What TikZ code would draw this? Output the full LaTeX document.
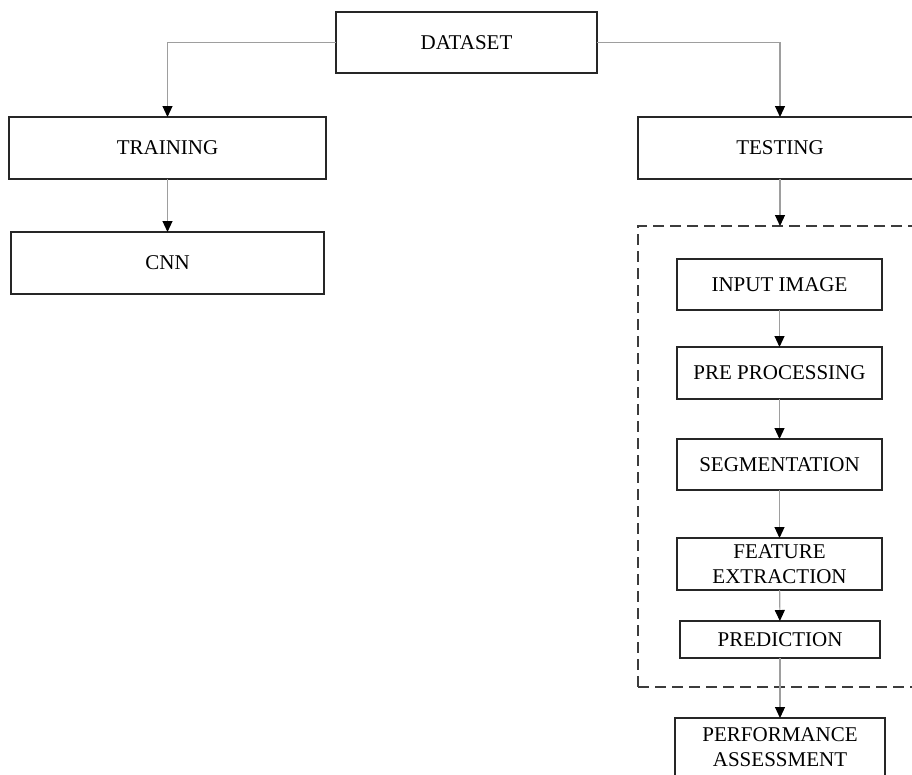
\documentclass[tikz,border=0pt]{standalone}
\usepackage{fontspec}
\setmainfont{Liberation Serif}
\usepackage{tikz}
\usetikzlibrary{positioning,calc,arrows.meta}
\definecolor{linegray}{rgb}{0.62, 0.62, 0.62}
\definecolor{boxblack}{rgb}{0.15, 0.15, 0.15}

\begin{document}
\begin{tikzpicture}[x=1pt,y=-1pt,>={Triangle[color=black,length=11pt,width=10pt]},
                line width=1.4pt,
                main node/.style={rectangle,draw=boxblack,inner sep=0pt,outer sep=0pt,align=center,
                                  font=\fontsize{21}{25}\selectfont},
                link/.style={->,draw=linegray,line width=1.1pt}]
\clip (0,0) rectangle (912,774);
\useasboundingbox (0,0) rectangle (912,774);
%Nodes
    \node[main node, minimum width=261pt, minimum height=61pt] (DS) at (466.5,42.5) {DATASET};
    \node[main node, minimum width=317pt, minimum height=62pt] (TR) at (167.5,148) {TRAINING};
    \node[main node, minimum width=313pt, minimum height=62pt] (CNN) at (167.5,263) {CNN};
    \node[main node, minimum width=284pt, minimum height=62pt] (TE) at (780,148) {TESTING};
    \node[main node, dash pattern=on 11pt off 6pt, draw=boxblack!90, line width=1.8pt,
          minimum width=284pt, minimum height=461pt] (TB) at (780,456.5) {};
    \node[main node, minimum width=205pt, minimum height=51pt] (IN) at (779.5,284.5) {INPUT IMAGE};
    \node[main node, minimum width=205pt, minimum height=52pt] (PP) at (779.5,373) {PRE PROCESSING};
    \node[main node, minimum width=205pt, minimum height=51pt] (SG) at (779.5,464.5) {SEGMENTATION};
    \node[main node, minimum width=205pt, minimum height=52pt] (FE) at (779.5,564) {FEATURE\\EXTRACTION};
    \node[main node, minimum width=200pt, minimum height=37pt] (PR) at (780,639.5) {PREDICTION};
    \node[main node, minimum width=210pt, minimum height=58pt] (PA) at (780,747) {PERFORMANCE\\ASSESSMENT};

    \draw[link] (DS.west) -| (TR.north);
    \draw[link] (DS.east) -| (TE.north);
    \path[link] (TR) edge (CNN);
    \path[link] (TE) edge (TB);
    \path[link] (IN) edge (PP);
    \path[link] (PP) edge (SG);
    \path[link] (SG) edge (FE);
    \path[link] (FE) edge (PR);
    \path[link] (PR) edge (PA);
\end{tikzpicture}
\end{document}
